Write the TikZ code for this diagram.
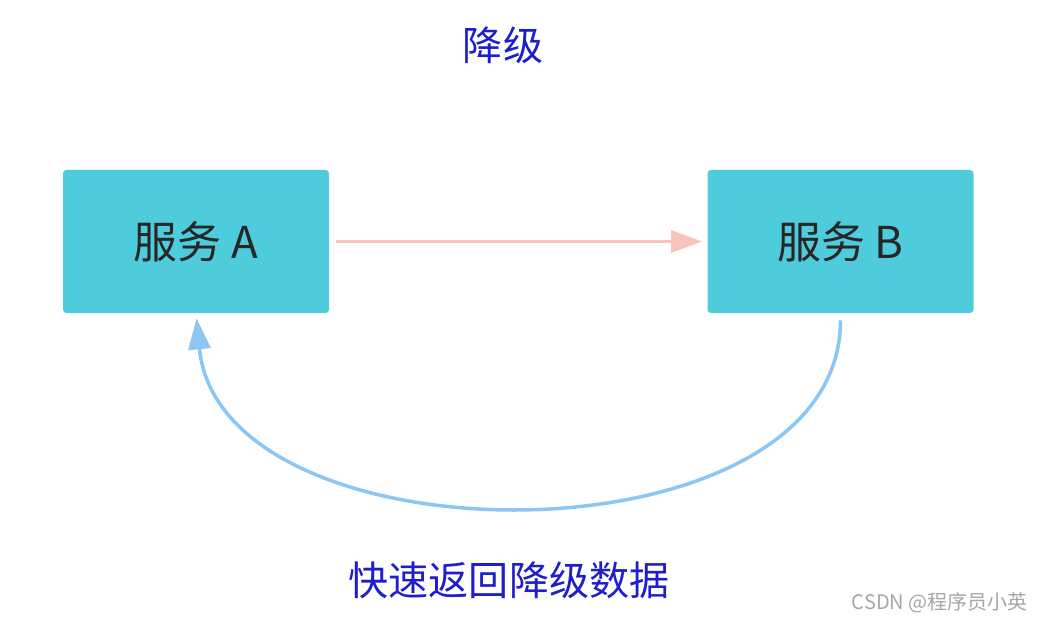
\documentclass[tikz,border=0pt]{standalone}
\usepackage{fontspec}
\usepackage{xcolor}
\usepackage{tikz}
\usetikzlibrary{positioning, arrows.meta}
\newfontfamily\cjk{Noto Sans CJK SC}

\definecolor{boxcyan}{HTML}{4ECCDC}
\definecolor{callpink}{HTML}{F9C4BC}
\definecolor{backblue}{HTML}{8DC6F2}
\definecolor{titleblue}{HTML}{1E1ECC}

\tikzset{
  service/.style={fill=boxcyan, rounded corners=2pt, minimum width=5.32cm, minimum height=2.86cm,
    font=\cjk\fontsize{25}{30}\selectfont, text=black!85},
  label/.style={font=\cjk\fontsize{22.8}{27}\selectfont, text=titleblue}
}

\begin{document}
\begin{tikzpicture}
      \useasboundingbox (0,0) rectangle (20.8,12.44);

      % Services
      \node[service] (A) at (3.92,7.61) {服务 A};
      \node[service] (B) at (16.81,7.61) {服务 B};

      % Call A -> B
      \draw[-{Triangle[length=0.62cm, width=0.44cm]}, callpink, line width=1.6pt,
        shorten <=0.14cm, shorten >=0.1cm] (A.east) -- (B.west);

      % Fallback B -> A
      \draw[-{Triangle[length=0.62cm, width=0.44cm]}, backblue, line width=2pt,
        shorten <=0.14cm, shorten >=0.1cm]
        (B.south) .. controls ([yshift=-5.1cm]B.south) and ([xshift=0.5cm, yshift=-5.1cm]A.south) .. (A.south);

      % Labels
      \node[label] (title) at (10.06,11.54) {降级};
      \node[label] (back) at (10.18,0.84) {快速返回降级数据};
      \node[font=\cjk\fontsize{11.4}{13}\selectfont, text=black!35] (mark) at (18.8,0.38) {CSDN @程序员小英};
\end{tikzpicture}
\end{document}
